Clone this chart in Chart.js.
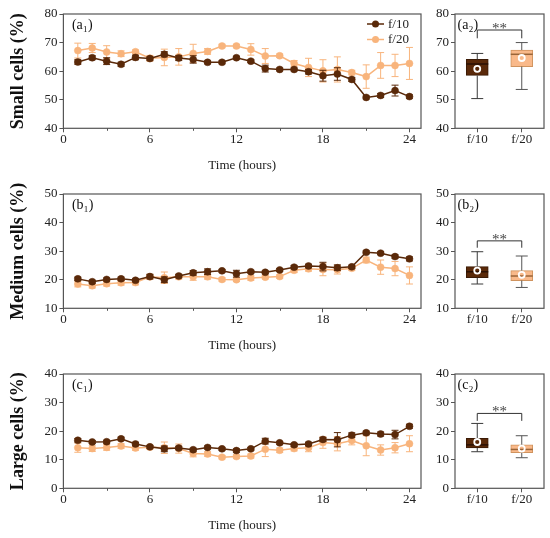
<!DOCTYPE html>
<html><head><meta charset="utf-8">
<script src="https://cdn.jsdelivr.net/npm/chart.js@4"></script>
<style>
html,body{margin:0;padding:0;background:#fff;width:550px;height:538px;overflow:hidden}
canvas{position:absolute}
</style></head><body>
<canvas id="a1" width="430" height="175" style="left:0;top:0"></canvas>
<canvas id="a2" width="130" height="175" style="left:420px;top:0"></canvas>
<canvas id="b1" width="430" height="175" style="left:0;top:180px"></canvas>
<canvas id="b2" width="130" height="175" style="left:420px;top:180px"></canvas>
<canvas id="c1" width="430" height="175" style="left:0;top:360px"></canvas>
<canvas id="c2" width="130" height="175" style="left:420px;top:360px"></canvas>
<script>
// ---------- data ----------
const hours = [1,2,3,4,5,6,7,8,9,10,11,12,13,14,15,16,17,18,19,20,21,22,23,24];
const xMajorTicks = [0,6,12,18,24];
const xMinorTicks = [3,9,15,21];
const groups = ['f/10','f/20'];

const smallF10    = [63.2,64.7,63.5,62.4,64.8,64.4,65.9,64.6,64.1,63.1,63.1,64.7,63.5,60.9,60.6,60.6,59.8,58.4,59.0,57.1,50.8,51.5,53.2,51.1];
const smallF10Err = [0.8,0.7,1.2,0.7,0.8,0.6,0.9,0.9,1.3,0.5,0.5,0.5,0.5,1.2,0.5,0.5,0.8,1.9,2.2,0.7,0.5,0.7,1.9,0.6];
const smallF20    = [67.2,68.1,66.7,66.1,66.8,64.5,64.8,65.0,66.2,66.9,68.8,68.8,67.6,65.3,65.4,62.7,61.3,60.1,60.6,59.5,58.1,62.0,62.0,62.7];
const smallF20Err = [2.6,1.6,2.2,1.0,0.6,1.0,2.9,2.9,3.2,1.0,0.6,0.6,2.0,2.6,0.6,1.0,3.2,3.9,4.4,0.8,4.1,4.5,3.9,5.6];

const mediumF10    = [20.3,19.3,20.1,20.3,19.8,21.1,20.0,21.3,22.4,22.8,23.1,22.1,22.8,22.6,23.4,24.4,24.8,24.6,24.2,24.5,29.6,29.3,28.1,27.3];
const mediumF10Err = [0.6,0.5,0.5,0.6,0.5,0.8,1.0,0.6,0.8,1.0,0.5,1.2,0.5,0.5,0.5,0.6,0.6,1.5,1.0,0.6,0.5,0.5,0.6,0.7];
const mediumF20    = [18.5,17.9,18.6,18.9,19.0,21.0,20.7,21.0,21.0,21.0,20.1,20.0,20.6,20.9,21.1,23.3,23.8,23.6,23.5,24.0,26.9,24.4,23.9,21.5];
const mediumF20Err = [1.0,0.8,0.8,0.8,0.8,0.8,2.0,0.8,1.2,0.8,0.6,0.6,0.8,0.6,0.6,0.8,0.8,2.2,1.5,0.8,1.0,2.5,2.5,3.0];

const largeF10    = [16.8,16.2,16.3,17.3,15.5,14.5,13.8,14.1,13.5,14.3,13.8,13.2,13.8,16.5,15.9,15.2,15.5,17.1,17.0,18.6,19.4,19.0,18.8,21.7];
const largeF10Err = [0.6,0.5,0.5,0.6,0.6,0.5,1.0,0.6,0.5,0.5,0.5,0.6,0.5,1.0,0.5,0.5,0.6,0.7,2.5,0.8,0.6,0.7,1.5,0.7];
const largeF20    = [14.2,13.9,14.3,14.8,14.1,14.4,14.2,13.9,12.2,12.0,10.9,11.1,11.3,13.7,13.3,13.9,14.2,16.0,15.6,16.7,14.9,13.4,14.2,15.6];
const largeF20Err = [1.6,1.0,1.0,0.8,0.8,0.7,2.0,1.6,1.2,0.8,0.6,0.6,0.7,2.6,0.8,0.8,1.4,2.0,2.5,1.5,3.5,1.8,1.8,2.8];

// box plots: [f/10, f/20]
const smallMin  = [50.4,53.6], smallQ1 = [58.5,61.6], smallMed = [62.5,65.9], smallQ3 = [64.1,67.4], smallMax = [66.2,70.0], smallMean = [60.8,64.6];
const mediumMin = [18.5,17.3], mediumQ1 = [20.7,19.7], mediumMed = [22.8,21.3], mediumQ3 = [24.6,23.2], mediumMax = [29.8,28.3], mediumMean = [23.2,21.7];
const largeMin  = [12.8,10.7], largeQ1 = [14.1,12.5], largeMed = [15.2,13.6], largeQ3 = [17.5,15.2], largeMax = [22.7,18.4], largeMean = [16.2,13.9];
// significance bracket: [line level, tip level]
const smallSig = [74.4,71.5], mediumSig = [33.6,31.2], largeSig = [26.2,23.6];
const sigText = '**';

// ---------- styles ----------
const DARK = '#5a2909', LIGHT = '#f8b47c';
const FONT = '"Liberation Serif", "Times New Roman", serif';
const AXIS = '#555';

const framePlugin = {
  id: 'frame',
  afterDraw(chart) {
    const {ctx, chartArea: a} = chart;
    ctx.save(); ctx.strokeStyle = AXIS; ctx.lineWidth = 1.2;
    ctx.strokeRect(a.left, a.top, a.right - a.left, a.bottom - a.top);
    ctx.restore();
  }
};
const minorTickPlugin = {
  id: 'minorTicks',
  afterDraw(chart, args, o) {
    if (!o || !o.values) return;
    const {ctx, chartArea: a, scales: {x}} = chart;
    ctx.save(); ctx.strokeStyle = AXIS; ctx.lineWidth = 1;
    o.values.forEach(v => {
      const px = Math.round(x.getPixelForValue(v)) + 0.5;
      ctx.beginPath(); ctx.moveTo(px, a.bottom); ctx.lineTo(px, a.bottom + 2.5); ctx.stroke();
    });
    ctx.restore();
  }
};
const panelLabelPlugin = {
  id: 'panelLabel',
  afterDraw(chart, args, o) {
    const {ctx, chartArea: a} = chart;
    ctx.save(); ctx.fillStyle = '#111'; ctx.textBaseline = 'alphabetic'; ctx.textAlign = 'left';
    let x = a.left + o.dx; const y = a.top + 14.5;
    ctx.font = '14px ' + FONT;
    const s = '(' + o.letter; ctx.fillText(s, x, y); x += ctx.measureText(s).width;
    ctx.font = '9px ' + FONT; ctx.fillText(o.sub, x + 0.3, y + 3); x += ctx.measureText(o.sub).width + 0.6;
    ctx.font = '14px ' + FONT; ctx.fillText(')', x, y);
    ctx.restore();
  }
};
const seriesLegendPlugin = {
  id: 'seriesLegend',
  afterDraw(chart, args, o) {
    if (!o || !o.show) return;
    const {ctx, chartArea: a} = chart;
    ctx.save();
    chart.data.datasets.forEach((ds, i) => {
      const y = a.top + 10 + i * 15.5, x0 = a.right - 54;
      ctx.strokeStyle = ds.borderColor; ctx.lineWidth = 1.5;
      ctx.beginPath(); ctx.moveTo(x0, y); ctx.lineTo(x0 + 17, y); ctx.stroke();
      ctx.fillStyle = ds.borderColor; ctx.beginPath(); ctx.arc(x0 + 8.5, y, 3.5, 0, Math.PI * 2); ctx.fill();
      ctx.fillStyle = '#222'; ctx.font = '13px ' + FONT; ctx.textBaseline = 'middle'; ctx.textAlign = 'left';
      ctx.fillText(ds.label, x0 + 21, y + 0.5);
    });
    ctx.restore();
  }
};
const errorBarPlugin = {
  id: 'errorBars',
  beforeDatasetDraw(chart, args) {
    const ds = chart.data.datasets[args.index];
    if (!ds.errors) return;
    const {ctx, scales: {y}} = chart;
    const meta = chart.getDatasetMeta(args.index);
    ctx.save(); ctx.strokeStyle = ds.borderColor; ctx.lineWidth = 1;
    meta.data.forEach((pt, i) => {
      const v = ds.data[i].y, e = ds.errors[i];
      const t = y.getPixelForValue(v + e), b = y.getPixelForValue(v - e);
      ctx.beginPath();
      ctx.moveTo(pt.x, t); ctx.lineTo(pt.x, b);
      ctx.moveTo(pt.x - 3.5, t); ctx.lineTo(pt.x + 3.5, t);
      ctx.moveTo(pt.x - 3.5, b); ctx.lineTo(pt.x + 3.5, b);
      ctx.stroke();
    });
    ctx.restore();
  }
};
const boxPlugin = {
  id: 'boxParts',
  afterDatasetsDraw(chart, args, o) {
    const {ctx, scales: {x, y}} = chart;
    ctx.save();
    o.min.forEach((mn, i) => {
      const cx = x.getPixelForValue(i);
      const whisk = i === 0 ? '#3a3a3a' : '#555';
      ctx.strokeStyle = whisk; ctx.lineWidth = 1;
      const pMin = y.getPixelForValue(mn), pMax = y.getPixelForValue(o.max[i]);
      const pQ1 = y.getPixelForValue(o.q1[i]), pQ3 = y.getPixelForValue(o.q3[i]);
      ctx.beginPath();
      ctx.moveTo(cx, pQ3); ctx.lineTo(cx, pMax);
      ctx.moveTo(cx, pQ1); ctx.lineTo(cx, pMin);
      ctx.moveTo(cx - 6, pMax); ctx.lineTo(cx + 6, pMax);
      ctx.moveTo(cx - 6, pMin); ctx.lineTo(cx + 6, pMin);
      ctx.stroke();
      const pMed = y.getPixelForValue(o.med[i]);
      ctx.strokeStyle = i === 0 ? '#2a1003' : '#9a6438'; ctx.lineWidth = 1.5;
      ctx.beginPath(); ctx.moveTo(cx - 11, pMed); ctx.lineTo(cx + 11, pMed); ctx.stroke();
      const pMean = y.getPixelForValue(o.mean[i]);
      ctx.strokeStyle = '#fff'; ctx.lineWidth = 1.8;
      ctx.beginPath(); ctx.arc(cx, pMean, 3, 0, Math.PI * 2); ctx.stroke();
    });
    // significance bracket
    const x0 = x.getPixelForValue(0), x1 = x.getPixelForValue(1);
    const pl = y.getPixelForValue(o.sig[0]), pt = y.getPixelForValue(o.sig[1]);
    ctx.strokeStyle = '#333'; ctx.lineWidth = 1;
    ctx.beginPath(); ctx.moveTo(x0, pt); ctx.lineTo(x0, pl); ctx.lineTo(x1, pl); ctx.lineTo(x1, pt); ctx.stroke();
    ctx.fillStyle = '#444'; ctx.font = '15px ' + FONT; ctx.textAlign = 'center'; ctx.textBaseline = 'alphabetic';
    ctx.fillText(sigText, (x0 + x1) / 2, pl + 3);
    ctx.restore();
  }
};

const tickFont = {family: FONT, size: 13};
function yAxis(min, max, width, title) {
  const ax = {
    min: min, max: max,
    ticks: {stepSize: 10, font: tickFont, color: '#222', padding: 2},
    grid: {drawOnChartArea: false, tickLength: 4, tickColor: AXIS},
    border: {display: false},
    afterFit: s => { s.width = width; }
  };
  if (title) ax.title = {display: true, text: title, color: '#111', font: {family: FONT, size: 18, weight: 'bold'}, padding: {top: 8, bottom: 0}};
  return ax;
}

function lineChart(id, title, yMin, yMax, f10, f10e, f20, f20e, sub, legend) {
  return new Chart(document.getElementById(id), {
    type: 'line',
    data: {datasets: [
      {label: groups[0], data: hours.map((h, i) => ({x: h, y: f10[i]})), errors: f10e,
       borderColor: DARK, backgroundColor: DARK, pointBackgroundColor: DARK, pointBorderColor: DARK,
       pointRadius: 3.5, pointBorderWidth: 0.5, borderWidth: 1.5, tension: 0},
      {label: groups[1], data: hours.map((h, i) => ({x: h, y: f20[i]})), errors: f20e,
       borderColor: LIGHT, backgroundColor: LIGHT, pointBackgroundColor: LIGHT, pointBorderColor: LIGHT,
       pointRadius: 3.5, pointBorderWidth: 0.5, borderWidth: 1.5, tension: 0}
    ]},
    options: {
      responsive: false, animation: false, devicePixelRatio: 1,
      layout: {padding: {top: 14, left: 0, right: 9, bottom: 0}},
      plugins: {legend: {display: false}, tooltip: {enabled: false},
        panelLabel: {letter: id[0], sub: sub, dx: 8.5},
        seriesLegend: {show: legend}, minorTicks: {values: xMinorTicks}},
      scales: {
        x: {type: 'linear', min: 0, max: 24.8,
          afterBuildTicks: s => { s.ticks = xMajorTicks.map(v => ({value: v})); },
          afterFit: s => { s.height = 46.7; },
          ticks: {font: tickFont, color: '#222', padding: -1, maxRotation: 0},
          grid: {drawOnChartArea: false, tickLength: 4, tickColor: AXIS},
          border: {display: false},
          title: {display: true, text: 'Time (hours)', color: '#222', font: {family: FONT, size: 13}, padding: {top: 0, bottom: 1.5}}
        },
        y: yAxis(yMin, yMax, 63.4, title)
      }
    },
    plugins: [errorBarPlugin, framePlugin, panelLabelPlugin, seriesLegendPlugin, minorTickPlugin]
  });
}

function boxChart(id, yMin, yMax, mn, q1, med, q3, mx, mean, sig, sub) {
  return new Chart(document.getElementById(id), {
    type: 'bar',
    data: {labels: groups, datasets: [{
      data: q1.map((v, i) => [v, q3[i]]),
      backgroundColor: [DARK, '#f9b98a'], borderColor: ['#3a1a05', '#d0935e'],
      borderWidth: 1, borderSkipped: false, barThickness: 22
    }]},
    options: {
      responsive: false, animation: false, devicePixelRatio: 1,
      layout: {padding: {top: 14, left: 0, right: 6, bottom: 0}},
      plugins: {legend: {display: false}, tooltip: {enabled: false},
        panelLabel: {letter: id[0], sub: sub, dx: 2.5},
        boxParts: {min: mn, q1: q1, med: med, q3: q3, max: mx, mean: mean, sig: sig}},
      scales: {
        x: {afterFit: s => { s.height = 46.7; },
          ticks: {font: tickFont, color: '#222', padding: -1},
          grid: {drawOnChartArea: false, tickLength: 4, tickColor: AXIS, offset: false},
          border: {display: false}},
        y: yAxis(yMin, yMax, 35, null)
      }
    },
    plugins: [framePlugin, panelLabelPlugin, boxPlugin]
  });
}

lineChart('a1', 'Small cells (%)', 40, 80, smallF10, smallF10Err, smallF20, smallF20Err, '1', true);
lineChart('b1', 'Medium cells (%)', 10, 50, mediumF10, mediumF10Err, mediumF20, mediumF20Err, '1', false);
lineChart('c1', 'Large cells (%)', 0, 40, largeF10, largeF10Err, largeF20, largeF20Err, '1', false);
boxChart('a2', 40, 80, smallMin, smallQ1, smallMed, smallQ3, smallMax, smallMean, smallSig, '2');
boxChart('b2', 10, 50, mediumMin, mediumQ1, mediumMed, mediumQ3, mediumMax, mediumMean, mediumSig, '2');
boxChart('c2', 0, 40, largeMin, largeQ1, largeMed, largeQ3, largeMax, largeMean, largeSig, '2');
</script>
</body></html>
